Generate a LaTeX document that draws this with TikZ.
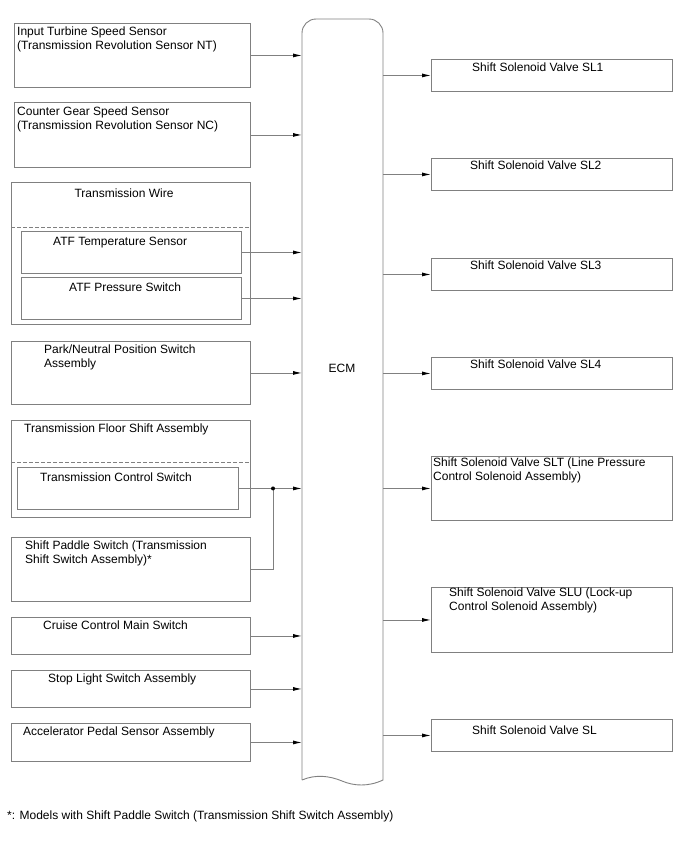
\documentclass[tikz,border=0pt]{standalone}
\usepackage{fontspec}
\setmainfont{Liberation Sans}
\usetikzlibrary{arrows.meta}

\definecolor{linegray}{RGB}{128,128,128}

\tikzset{
  box/.style={draw=linegray, line width=0.9pt, anchor=north west, inner sep=0pt, minimum width=#1},
  box/.default=236,
  txt/.style={anchor=base west, inner sep=0pt, align=left, font=\fontsize{12}{13.5}\selectfont},
  wire/.style={draw=linegray, line width=0.9pt},
  arr/.style={wire, -{Latex[length=9pt, width=4pt, color=black]}},
  sep/.style={draw=linegray, line width=0.9pt, dash pattern=on 4pt off 2pt}
}

\begin{document}
\begin{tikzpicture}[x=1pt, y=-1pt]
  \useasboundingbox (0,0) rectangle (688,852);

  % ECM
  \node[minimum width=81, minimum height=761, inner sep=0pt, anchor=north west] (ecm) at (302,19) {};
  \draw[wire] (302,780) -- (302,33) arc (180:270:14) -- (369,19) arc (270:360:14) -- (383,780)
    .. controls (368,787) and (354,786) .. (342,781)
    .. controls (330,776) and (316,774) .. (302,780);
  \node[font=\fontsize{12}{13.5}\selectfont] (ecmtxt) at (342,368) {ECM};

  % inputs (multi-line texts: y is the baseline of the last line)
  \node[box, minimum height=64] (its) at (14,23) {};
  \node[txt] (itst) at (17,49) {Input Turbine Speed Sensor\\(Transmission Revolution Sensor NT)};
  \node[box, minimum height=65] (cgs) at (14,102) {};
  \node[txt] (cgst) at (17,129) {Counter Gear Speed Sensor\\(Transmission Revolution Sensor NC)};

  \node[box=239, minimum height=142] (tw) at (11,182) {};
  \node[font=\fontsize{12}{13.5}\selectfont, anchor=base, inner sep=0pt] (twt) at (124,197) {Transmission Wire};
  \draw[sep] (tw.west |- 0,227) -- (tw.east |- 0,227);
  \node[box=220, minimum height=42] (atft) at (21,231) {};
  \node[txt] (atftt) at (53,245) {ATF Temperature Sensor};
  \node[box=220, minimum height=42] (atfp) at (21,277) {};
  \node[txt] (atfpt) at (69,291) {ATF Pressure Switch};

  \node[box=239, minimum height=63] (pnp) at (11,341) {};
  \node[txt] (pnpt) at (44,367) {Park/Neutral Position Switch\\Assembly};

  \node[box=239, minimum height=97] (tfs) at (11,420) {};
  \node[txt] (tfst) at (24,432) {Transmission Floor Shift Assembly};
  \draw[sep] (tfs.west |- 0,462) -- (tfs.east |- 0,462);
  \node[box=221, minimum height=42] (tcs) at (17,467) {};
  \node[txt] (tcst) at (40,481) {Transmission Control Switch};

  \node[box=239, minimum height=64] (sps) at (11,537) {};
  \node[txt] (spst) at (25,563) {Shift Paddle Switch (Transmission\\Shift Switch Assembly)*};

  \node[box=239, minimum height=37] (ccm) at (11,617) {};
  \node[txt] (ccmt) at (43,629) {Cruise Control Main Switch};
  \node[box=239, minimum height=37] (sls) at (11,670) {};
  \node[txt] (slst) at (48,682) {Stop Light Switch Assembly};
  \node[box=239, minimum height=38] (aps) at (11,723) {};
  \node[txt] (apst) at (23,735) {Accelerator Pedal Sensor Assembly};

  % outputs
  \node[box=241, minimum height=32] (sl1) at (431,59) {};
  \node[txt] (sl1t) at (472,71) {Shift Solenoid Valve SL1};
  \node[box=241, minimum height=32] (sl2) at (431,158) {};
  \node[txt] (sl2t) at (470,169) {Shift Solenoid Valve SL2};
  \node[box=241, minimum height=32] (sl3) at (431,258) {};
  \node[txt] (sl3t) at (470,269) {Shift Solenoid Valve SL3};
  \node[box=241, minimum height=32] (sl4) at (431,357) {};
  \node[txt] (sl4t) at (470,368) {Shift Solenoid Valve SL4};
  \node[box=241, minimum height=64] (slt) at (431,456) {};
  \node[txt] (sltt) at (433,480) {Shift Solenoid Valve SLT (Line Pressure\\Control Solenoid Assembly)};
  \node[box=241, minimum height=65] (slu) at (431,587) {};
  \node[txt] (slut) at (449,610) {Shift Solenoid Valve SLU (Lock-up\\Control Solenoid Assembly)};
  \node[box=241, minimum height=32] (sl) at (431,719) {};
  \node[txt] (slt2) at (472,734) {Shift Solenoid Valve SL};

  % connections into the ECM
  \foreach \src in {its,cgs,atft,atfp,pnp,tcs,ccm,sls,aps}
    \draw[arr] (\src.east) -- (\src.east -| ecm.west);
  \coordinate (jn) at (273,0 |- tcs.east);
  \draw[wire] (sps.east) -| (jn);
  \fill (jn) circle (2);

  % connections out of the ECM
  \foreach \dst in {sl1,sl2,sl3,sl4,slt,slu,sl}
    \draw[arr] (\dst.west -| ecm.east) -- (\dst.west);

  \node[txt] (note) at (7,819) {*: Models with Shift Paddle Switch (Transmission Shift Switch Assembly)};
\end{tikzpicture}
\end{document}
